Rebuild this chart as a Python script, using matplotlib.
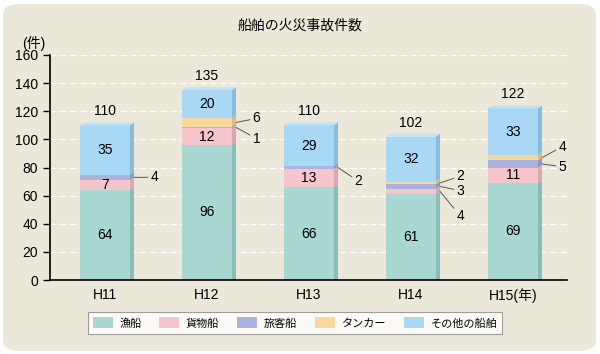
import numpy as np
import matplotlib.pyplot as plt
from matplotlib.patches import FancyBboxPatch, Polygon

plt.rcParams['font.family'] = ['Liberation Sans', 'Noto Sans CJK JP']

years = ["H11", "H12", "H13", "H14", "H15(年)"]
kinds = ["漁船", "貨物船", "旅客船", "タンカー", "その他の船舶"]
fishing = [64, 96, 66, 61, 69]
cargo = [7, 12, 13, 4, 11]
passenger = [4, 1, 2, 3, 5]
tanker = [0, 6, 0, 2, 4]
other = [35, 20, 29, 32, 33]
totals = [110, 135, 110, 102, 122]

series = [fishing, cargo, passenger, tanker, other]
front = ["#a9d7d1", "#f6c5cb", "#a9b3db", "#f8d89c", "#a9d8f4"]
side = ["#8cbcb8", "#d9a9b0", "#8e98c0", "#dcbc80", "#8cbcd8"]
top_c = "#bfe3f6"

# small segments labelled outside the bar: (bar, series, dx pt, dy pt)
outside = [
    (0, 2, 12, 0),
    (1, 3, 12, 3), (1, 2, 12, -8),
    (2, 2, 12, -10),
    (3, 3, 12, 5), (3, 2, 12, -3), (3, 1, 12, -18),
    (4, 3, 12, 8), (4, 2, 12, -2),
]

fig = plt.figure(figsize=(6.0, 3.54), dpi=100)
fig.patch.set_facecolor("white")
bg = FancyBboxPatch((3 / 600, 3 / 354), 593 / 600, 347 / 354,
                    boxstyle="round,pad=0,rounding_size=0.03",
                    transform=fig.transFigure, facecolor="#ece8d9",
                    edgecolor="none", zorder=-10)
fig.patches.append(bg)

ax = fig.add_axes([50 / 600, 74 / 354, 517 / 600, 225 / 354])
ax.set_facecolor("none")
x = np.arange(len(years))
w = 0.49
d = 0.04
e = 2.1
x0 = x - 0.265

ax.set_xlim(-0.559, 4.51)
ax.set_ylim(0, 160)

for yv in range(20, 161, 20):
    ax.axhline(yv, color="white", lw=0.9, ls=(0, (5, 3)), zorder=0)

bottom = np.zeros(len(years))
for k, vals in enumerate(series):
    vals = np.array(vals, dtype=float)
    ax.bar(x0, vals, width=w, bottom=bottom, align="edge", color=front[k],
           edgecolor="none", zorder=2, label=kinds[k])
    for i in range(len(years)):
        if vals[i] <= 0:
            continue
        xr = x0[i] + w
        yb, yt = bottom[i], bottom[i] + vals[i]
        ax.add_patch(Polygon([(xr, yb), (xr + d, yb + (e if yb > 0 else 0)),
                              (xr + d, yt + e), (xr, yt)],
                             closed=True, facecolor=side[k], edgecolor="none",
                             zorder=2))
    bottom += vals

for i in range(len(years)):
    yt = totals[i]
    ax.add_patch(Polygon([(x0[i], yt), (x0[i] + d, yt + e), (x0[i] + w + d, yt + e),
                          (x0[i] + w, yt)], closed=True, facecolor=top_c,
                         edgecolor="none", zorder=2))
    ax.text(x0[i] + w / 2, yt + 5, str(totals[i]), ha="center", va="bottom",
            fontsize=10)

# inside labels
bottom = np.zeros(len(years))
for k, vals in enumerate(series):
    for i in range(len(years)):
        if vals[i] >= 7:
            ax.text(x0[i] + w / 2, bottom[i] + vals[i] / 2, str(vals[i]),
                    ha="center", va="center", fontsize=10, zorder=3)
    bottom += np.array(vals)

cum = np.cumsum(np.array(series), axis=0)
for i, k, dx, dy in outside:
    yb = cum[k][i] - series[k][i]
    ym = yb + series[k][i] / 2
    ax.annotate(str(series[k][i]), xy=(x0[i] + w + d, ym), xytext=(dx, dy),
                textcoords="offset points", ha="left", va="center", fontsize=10,
                arrowprops=dict(arrowstyle="-", color="#555555", lw=0.7,
                                shrinkA=0, shrinkB=0), zorder=3)

ax.set_xticks(x0 + w / 2)
ax.set_xticklabels(years, fontsize=10)
ax.set_yticks(range(0, 161, 20))
ax.tick_params(axis="y", labelsize=10, length=5, width=1, direction="out")
ax.tick_params(axis="x", length=0, pad=6)
ax.spines["top"].set_visible(False)
ax.spines["right"].set_visible(False)
ax.spines["left"].set_linewidth(1.2)
ax.spines["bottom"].set_linewidth(1.2)

fig.text(0.5, 1 - 25 / 354, "船舶の火災事故件数", ha="center", va="center",
         fontsize=10)
fig.text(22 / 600, 1 - 43 / 354, "(件)", ha="left", va="center", fontsize=10)

leg = fig.legend(loc="center", bbox_to_anchor=(295 / 600, 1 - 323 / 354), ncol=5,
                 fontsize=8, frameon=True, fancybox=False, handlelength=1.8,
                 handleheight=1.1, handletextpad=0.6, columnspacing=1.6,
                 borderpad=0.45)
leg.get_frame().set_edgecolor("#888888")
leg.get_frame().set_linewidth(0.8)

fig.savefig("out.png", dpi=100, facecolor=fig.get_facecolor())
